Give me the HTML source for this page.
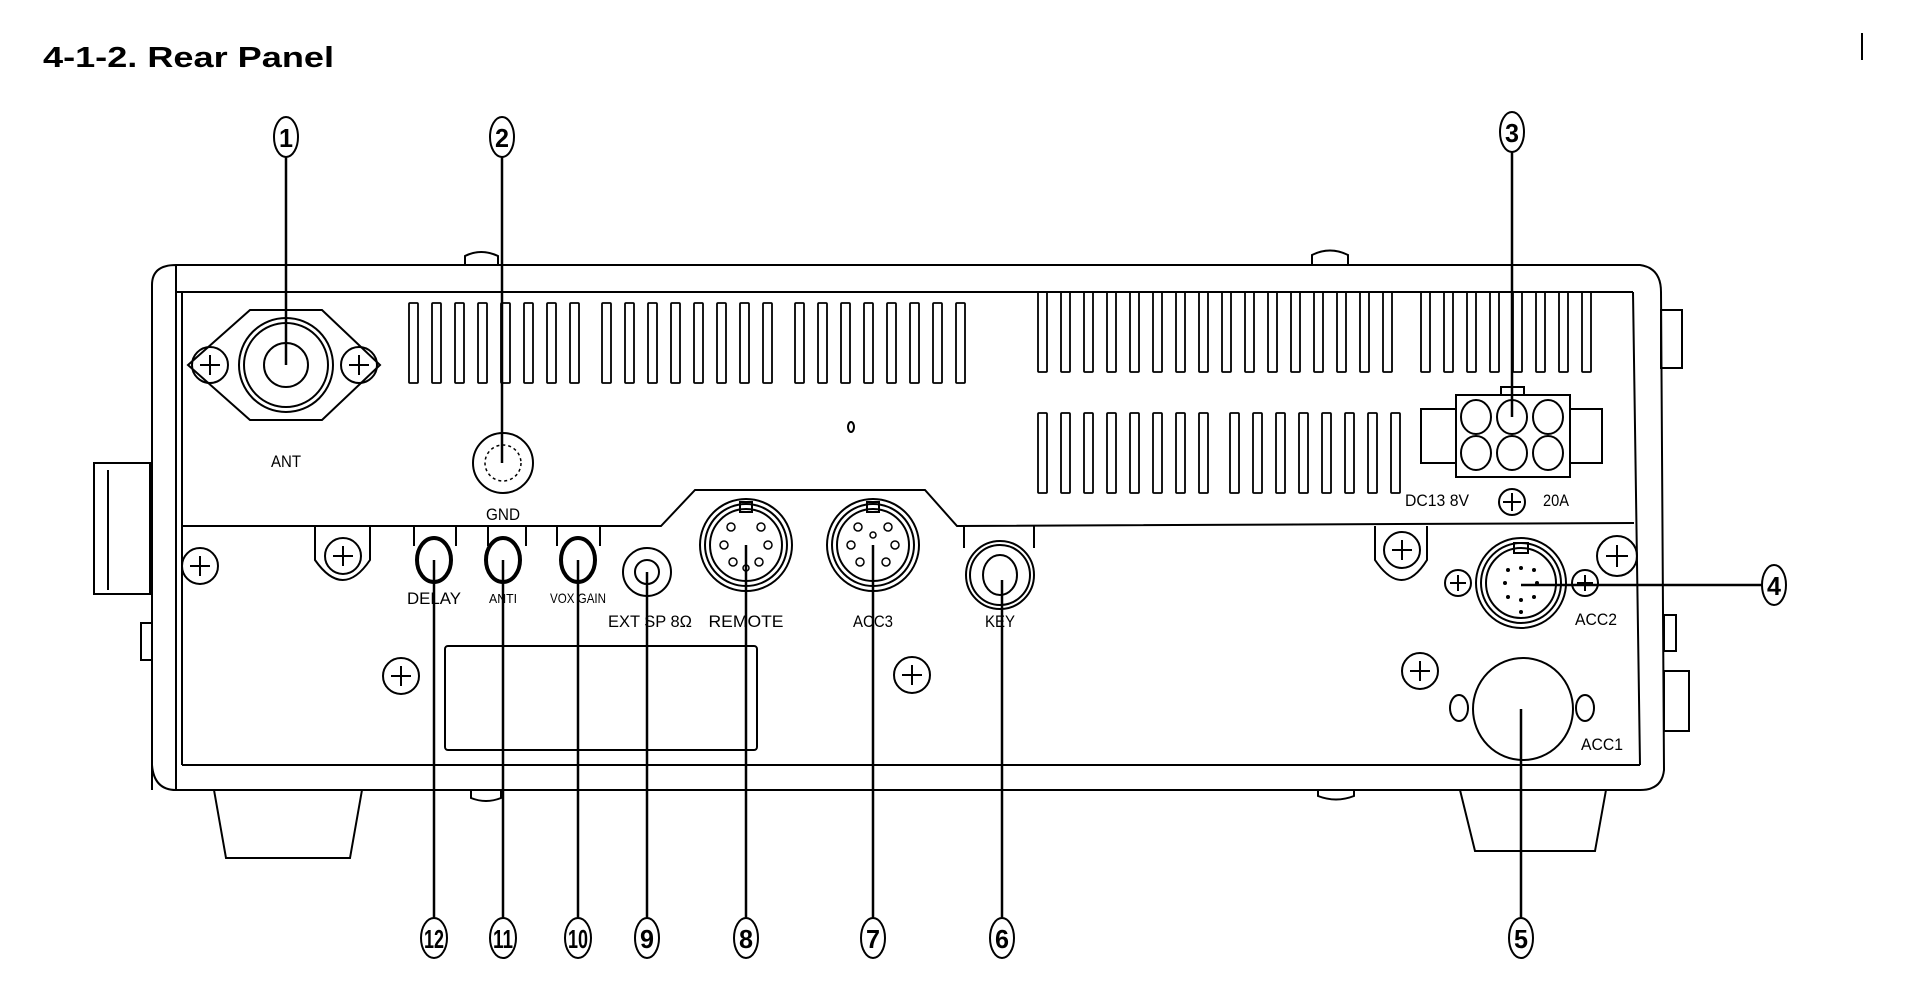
<!DOCTYPE html>
<html><head><meta charset="utf-8"><style>html,body{margin:0;padding:0;background:#fff}svg{display:block}</style></head><body>
<svg width="1906" height="1006" viewBox="0 0 1906 1006" xmlns="http://www.w3.org/2000/svg" font-family="Liberation Sans, sans-serif">
<rect width="1906" height="1006" fill="#fff"/>
<text x="43" y="67" font-size="29" font-weight="bold" textLength="291" lengthAdjust="spacingAndGlyphs">4-1-2.  Rear Panel</text>
<line x1="1862" y1="33" x2="1862" y2="60" stroke="#000" stroke-width="2"/>
<g fill="none" stroke="#000" stroke-width="2">
<!-- chassis -->
<path d="M176 265 L1640 265 M176 292 L1633 292"/>
<path d="M152 790 L152 285 Q152 265 176 265 L176 790"/>
<path d="M182 292 L182 765"/>
<path d="M1633 265 L1640 265 Q1661 268 1661 292 L1664 770 Q1662 790 1640 790 M1633 292 L1640 765"/>
<path d="M182 765 L1640 765 M176 790 L1640 790"/>
<path d="M152 765 Q154 790 176 790"/>
<!-- separator -->
<path d="M182 526 L661 526 L695 490 L925 490 L957 526 L1634 523"/>
<!-- side knobs -->
<rect x="94" y="463" width="56" height="131"/><line x1="108" y1="470" x2="108" y2="590"/>
<rect x="141" y="623" width="11" height="37"/>
<rect x="1661" y="310" width="21" height="58"/>
<rect x="1664" y="615" width="12" height="36"/>
<rect x="1664" y="671" width="25" height="60"/>
<path d="M465 265 L465 256 Q481 248 498 256 L498 265"/>
<path d="M1312 265 L1312 255 Q1330 246 1348 255 L1348 265"/>
<path d="M471 790 L471 798 Q486 804 501 798 L501 790"/>
<path d="M1318 790 L1318 796 Q1336 803 1354 796 L1354 790"/>
<!-- feet -->
<path d="M214 790 L226 858 L350 858 L362 790"/>
<path d="M1460 790 L1475 851 L1595 851 L1606 790"/>
<!-- ANT -->
<path d="M188 365 L250 310 L322 310 L380 365 L322 420 L250 420 Z"/>
<circle cx="210" cy="365" r="18"/><path d="M200 365h20M210 355v20"/>
<circle cx="359" cy="365" r="18"/><path d="M349 365h20M359 355v20"/>
<circle cx="286" cy="365" r="47"/><circle cx="286" cy="365" r="42"/><circle cx="286" cy="365" r="22"/>
<!-- GND -->
<circle cx="503" cy="463" r="30"/><circle cx="503" cy="463" r="18" stroke-dasharray="3 3" stroke-width="1.5"/>
<!-- DC connector -->
<rect x="1456" y="395" width="114" height="82"/>
<rect x="1421" y="409" width="35" height="54"/><rect x="1570" y="409" width="32" height="54"/>
<rect x="1501" y="387" width="23" height="8"/>
<ellipse cx="1476" cy="417" rx="15" ry="17"/><ellipse cx="1512" cy="417" rx="15" ry="17"/><ellipse cx="1548" cy="417" rx="15" ry="17"/>
<ellipse cx="1476" cy="453" rx="15" ry="17"/><ellipse cx="1512" cy="453" rx="15" ry="17"/><ellipse cx="1548" cy="453" rx="15" ry="17"/>
<circle cx="1512" cy="502" r="13"/><path d="M1503 502h18M1512 493v18"/>
<ellipse cx="851" cy="427" rx="3" ry="5"/>
<!-- lower screws -->
<circle cx="200" cy="566" r="18"/><path d="M190 566h20M200 556v20"/>
<path d="M315 526 L315 560 Q343 600 370 560 L370 526"/><circle cx="343" cy="556" r="18"/><path d="M333 556h20M343 546v20"/>
<circle cx="401" cy="676" r="18"/><path d="M391 676h20M401 666v20"/>
<circle cx="912" cy="675" r="18"/><path d="M902 675h20M912 665v20"/>
<rect x="445" y="646" width="312" height="104" rx="3"/>
<!-- pots -->
<path d="M414 526v20M456 526v20M488 526v20M526 526v20M557 526v20M600 526v20"/>
<ellipse cx="434" cy="560" rx="17" ry="22" stroke-width="4"/>
<ellipse cx="503" cy="560" rx="17" ry="22" stroke-width="4"/>
<ellipse cx="578" cy="560" rx="17" ry="22" stroke-width="4"/>
<circle cx="647" cy="572" r="24"/><circle cx="647" cy="572" r="12"/>
<!-- REMOTE -->
<circle cx="746" cy="545" r="46"/><circle cx="746" cy="545" r="41"/><circle cx="746" cy="545" r="36"/>
<rect x="740" y="502" width="12" height="10"/>
<g stroke-width="1.5"><circle cx="731" cy="527" r="4"/><circle cx="761" cy="527" r="4"/><circle cx="724" cy="545" r="4"/><circle cx="768" cy="545" r="4"/><circle cx="733" cy="562" r="4"/><circle cx="759" cy="562" r="4"/><circle cx="746" cy="568" r="3"/></g>
<!-- ACC3 -->
<circle cx="873" cy="545" r="46"/><circle cx="873" cy="545" r="41"/><circle cx="873" cy="545" r="36"/>
<rect x="867" y="502" width="12" height="10"/>
<g stroke-width="1.5"><circle cx="858" cy="527" r="4"/><circle cx="888" cy="527" r="4"/><circle cx="851" cy="545" r="4"/><circle cx="895" cy="545" r="4"/><circle cx="860" cy="562" r="4"/><circle cx="886" cy="562" r="4"/><circle cx="873" cy="535" r="3"/></g>
<!-- KEY -->
<path d="M964 526v22M1034 526v22"/>
<circle cx="1000" cy="575" r="34"/><circle cx="1000" cy="575" r="30"/><ellipse cx="1000" cy="575" rx="17" ry="20"/>
<!-- right lower -->
<path d="M1375 526 L1375 560 Q1402 600 1427 560 L1427 526"/><circle cx="1402" cy="550" r="18"/><path d="M1392 550h20M1402 540v20"/>
<circle cx="1521" cy="583" r="45"/><circle cx="1521" cy="583" r="40"/><circle cx="1521" cy="583" r="35"/>
<rect x="1514" y="543" width="14" height="10"/>
<circle cx="1458" cy="583" r="13"/><path d="M1450 583h16M1458 575v16"/>
<circle cx="1585" cy="583" r="13"/><path d="M1577 583h16M1585 575v16"/>
<circle cx="1617" cy="556" r="20"/><path d="M1606 556h22M1617 545v22"/>
<circle cx="1420" cy="671" r="18"/><path d="M1410 671h20M1420 661v20"/>
<ellipse cx="1523" cy="709" rx="50" ry="51"/>
<ellipse cx="1459" cy="708" rx="9" ry="13"/><ellipse cx="1585" cy="708" rx="9" ry="13"/>
</g>
<g fill="#000"><circle cx="1508" cy="570" r="2"/><circle cx="1521" cy="568" r="2"/><circle cx="1534" cy="570" r="2"/><circle cx="1505" cy="583" r="2"/><circle cx="1537" cy="583" r="2"/><circle cx="1508" cy="597" r="2"/><circle cx="1521" cy="600" r="2"/><circle cx="1534" cy="597" r="2"/><circle cx="1521" cy="612" r="2"/></g>
<!-- vents -->
<g fill="none" stroke="#000" stroke-width="2">
<path id="v"/>
</g>
<g fill="none" stroke="#000" stroke-width="2" id="vents"></g>
<!-- leaders -->
<g stroke="#000" stroke-width="2.5">
<line x1="286" y1="157" x2="286" y2="365"/>
<line x1="502" y1="157" x2="502" y2="463"/>
<line x1="1512" y1="152" x2="1512" y2="417"/>
<line x1="1521" y1="585" x2="1762" y2="585"/>
<line x1="1521" y1="709" x2="1521" y2="918"/>
<line x1="1002" y1="580" x2="1002" y2="918"/>
<line x1="873" y1="545" x2="873" y2="918"/>
<line x1="746" y1="545" x2="746" y2="918"/>
<line x1="647" y1="572" x2="647" y2="918"/>
<line x1="578" y1="560" x2="578" y2="918"/>
<line x1="503" y1="560" x2="503" y2="918"/>
<line x1="434" y1="560" x2="434" y2="918"/>
</g>
<g fill="#fff" stroke="#000" stroke-width="2">
<ellipse cx="286" cy="137" rx="12" ry="20"/><ellipse cx="502" cy="137" rx="12" ry="20"/><ellipse cx="1512" cy="132" rx="12" ry="20"/>
<ellipse cx="1774" cy="585" rx="12" ry="20"/><ellipse cx="1521" cy="938" rx="12" ry="20"/><ellipse cx="1002" cy="938" rx="12" ry="20"/>
<ellipse cx="873" cy="938" rx="12" ry="20"/><ellipse cx="746" cy="938" rx="12" ry="20"/><ellipse cx="647" cy="938" rx="12" ry="20"/>
<ellipse cx="578" cy="938" rx="13" ry="20"/><ellipse cx="503" cy="938" rx="13" ry="20"/><ellipse cx="434" cy="938" rx="13" ry="20"/>
</g>
<g font-weight="bold" font-size="26" text-anchor="middle">
<text x="286" y="147" textLength="14" lengthAdjust="spacingAndGlyphs">1</text>
<text x="502" y="147" textLength="14" lengthAdjust="spacingAndGlyphs">2</text>
<text x="1512" y="142" textLength="14" lengthAdjust="spacingAndGlyphs">3</text>
<text x="1774" y="595" textLength="14" lengthAdjust="spacingAndGlyphs">4</text>
<text x="1521" y="948" textLength="14" lengthAdjust="spacingAndGlyphs">5</text>
<text x="1002" y="948" textLength="14" lengthAdjust="spacingAndGlyphs">6</text>
<text x="873" y="948" textLength="14" lengthAdjust="spacingAndGlyphs">7</text>
<text x="746" y="948" textLength="14" lengthAdjust="spacingAndGlyphs">8</text>
<text x="647" y="948" textLength="14" lengthAdjust="spacingAndGlyphs">9</text>
<text x="578" y="948" textLength="20" lengthAdjust="spacingAndGlyphs">10</text>
<text x="503" y="948" textLength="20" lengthAdjust="spacingAndGlyphs">11</text>
<text x="434" y="948" textLength="20" lengthAdjust="spacingAndGlyphs">12</text>
</g>
<g font-size="17" text-anchor="middle">
<text x="286" y="467" textLength="30" lengthAdjust="spacingAndGlyphs">ANT</text>
<text x="503" y="520" textLength="34" lengthAdjust="spacingAndGlyphs">GND</text>
<text x="434" y="604" textLength="54" lengthAdjust="spacingAndGlyphs">DELAY</text>
<text x="503" y="603" font-size="13" textLength="28" lengthAdjust="spacingAndGlyphs">ANTI</text>
<text x="578" y="603" font-size="14" textLength="56" lengthAdjust="spacingAndGlyphs">VOX GAIN</text>
<text x="650" y="627" textLength="84" lengthAdjust="spacingAndGlyphs">EXT SP  8Ω</text>
<text x="746" y="627" textLength="75" lengthAdjust="spacingAndGlyphs">REMOTE</text>
<text x="873" y="627" textLength="40" lengthAdjust="spacingAndGlyphs">ACC3</text>
<text x="1000" y="627" textLength="30" lengthAdjust="spacingAndGlyphs">KEY</text>
<text x="1596" y="625" textLength="42" lengthAdjust="spacingAndGlyphs">ACC2</text>
<text x="1602" y="750" textLength="42" lengthAdjust="spacingAndGlyphs">ACC1</text>
<text x="1437" y="506" textLength="64" lengthAdjust="spacingAndGlyphs">DC13 8V</text>
<text x="1556" y="506" textLength="26" lengthAdjust="spacingAndGlyphs">20A</text>
</g>
<g fill="none" stroke="#000" stroke-width="1.8">
<rect x="409" y="303" width="9" height="80" rx="1"/><rect x="432" y="303" width="9" height="80" rx="1"/><rect x="455" y="303" width="9" height="80" rx="1"/><rect x="478" y="303" width="9" height="80" rx="1"/><rect x="501" y="303" width="9" height="80" rx="1"/><rect x="524" y="303" width="9" height="80" rx="1"/><rect x="547" y="303" width="9" height="80" rx="1"/><rect x="570" y="303" width="9" height="80" rx="1"/>
<rect x="602" y="303" width="9" height="80" rx="1"/><rect x="625" y="303" width="9" height="80" rx="1"/><rect x="648" y="303" width="9" height="80" rx="1"/><rect x="671" y="303" width="9" height="80" rx="1"/><rect x="694" y="303" width="9" height="80" rx="1"/><rect x="717" y="303" width="9" height="80" rx="1"/><rect x="740" y="303" width="9" height="80" rx="1"/><rect x="763" y="303" width="9" height="80" rx="1"/>
<rect x="795" y="303" width="9" height="80" rx="1"/><rect x="818" y="303" width="9" height="80" rx="1"/><rect x="841" y="303" width="9" height="80" rx="1"/><rect x="864" y="303" width="9" height="80" rx="1"/><rect x="887" y="303" width="9" height="80" rx="1"/><rect x="910" y="303" width="9" height="80" rx="1"/><rect x="933" y="303" width="9" height="80" rx="1"/><rect x="956" y="303" width="9" height="80" rx="1"/>
<rect x="1038" y="292" width="9" height="80" rx="1"/><rect x="1061" y="292" width="9" height="80" rx="1"/><rect x="1084" y="292" width="9" height="80" rx="1"/><rect x="1107" y="292" width="9" height="80" rx="1"/><rect x="1130" y="292" width="9" height="80" rx="1"/><rect x="1153" y="292" width="9" height="80" rx="1"/><rect x="1176" y="292" width="9" height="80" rx="1"/><rect x="1199" y="292" width="9" height="80" rx="1"/><rect x="1222" y="292" width="9" height="80" rx="1"/><rect x="1245" y="292" width="9" height="80" rx="1"/><rect x="1268" y="292" width="9" height="80" rx="1"/><rect x="1291" y="292" width="9" height="80" rx="1"/><rect x="1314" y="292" width="9" height="80" rx="1"/><rect x="1337" y="292" width="9" height="80" rx="1"/><rect x="1360" y="292" width="9" height="80" rx="1"/><rect x="1383" y="292" width="9" height="80" rx="1"/>
<rect x="1421" y="292" width="9" height="80" rx="1"/><rect x="1444" y="292" width="9" height="80" rx="1"/><rect x="1467" y="292" width="9" height="80" rx="1"/><rect x="1490" y="292" width="9" height="80" rx="1"/><rect x="1513" y="292" width="9" height="80" rx="1"/><rect x="1536" y="292" width="9" height="80" rx="1"/><rect x="1559" y="292" width="9" height="80" rx="1"/><rect x="1582" y="292" width="9" height="80" rx="1"/>
<rect x="1038" y="413" width="9" height="80" rx="1"/><rect x="1061" y="413" width="9" height="80" rx="1"/><rect x="1084" y="413" width="9" height="80" rx="1"/><rect x="1107" y="413" width="9" height="80" rx="1"/><rect x="1130" y="413" width="9" height="80" rx="1"/><rect x="1153" y="413" width="9" height="80" rx="1"/><rect x="1176" y="413" width="9" height="80" rx="1"/><rect x="1199" y="413" width="9" height="80" rx="1"/>
<rect x="1230" y="413" width="9" height="80" rx="1"/><rect x="1253" y="413" width="9" height="80" rx="1"/><rect x="1276" y="413" width="9" height="80" rx="1"/><rect x="1299" y="413" width="9" height="80" rx="1"/><rect x="1322" y="413" width="9" height="80" rx="1"/><rect x="1345" y="413" width="9" height="80" rx="1"/><rect x="1368" y="413" width="9" height="80" rx="1"/><rect x="1391" y="413" width="9" height="80" rx="1"/>
</g>
</svg>
</body></html>
